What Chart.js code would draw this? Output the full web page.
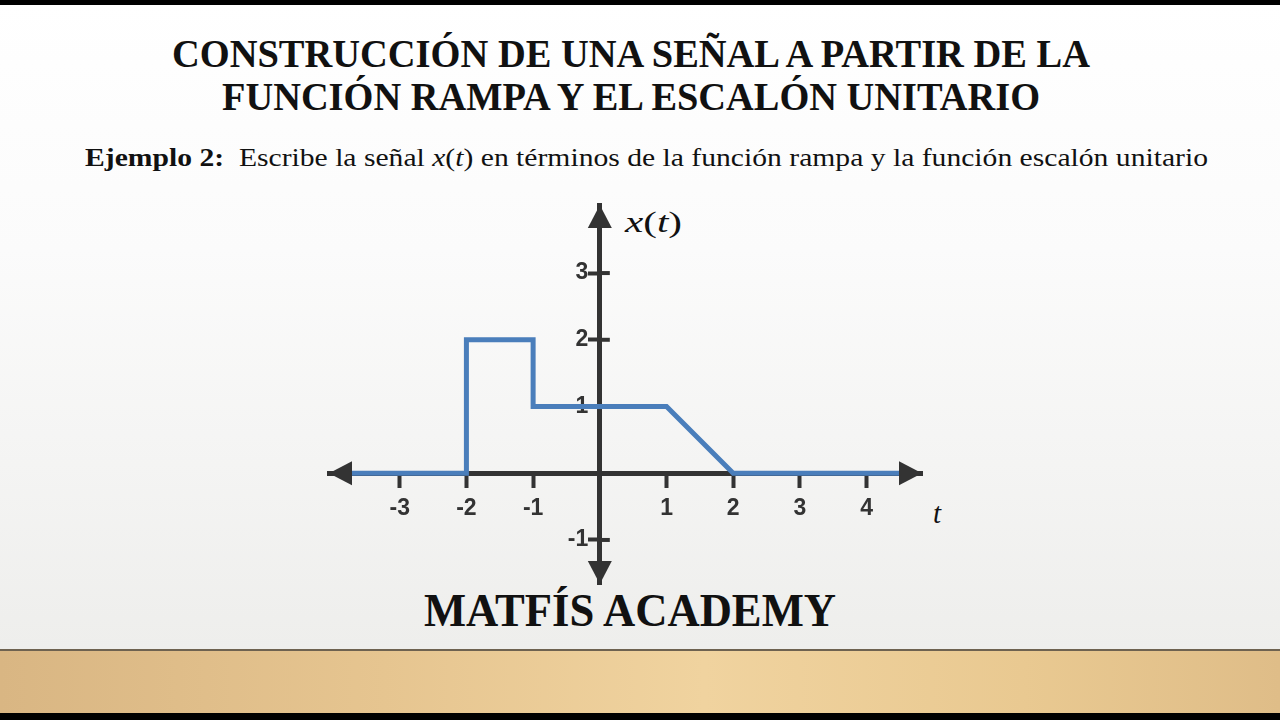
<!DOCTYPE html>
<html>
<head>
<meta charset="utf-8">
<script src="https://cdn.jsdelivr.net/npm/chart.js@4.4.1/dist/chart.umd.min.js"></script>
<style>
  html, body { margin: 0; padding: 0; }
  body {
    width: 1280px; height: 720px; overflow: hidden; position: relative;
    background: linear-gradient(to bottom, #ffffff 0px, #fbfbfb 250px, #eeeeec 648px);
  }
  .bar { position: absolute; left: 0; width: 1280px; background: #000; }
  .floor {
    position: absolute; left: 0; top: 649px; width: 1280px; height: 64px;
    background: linear-gradient(to right, #d9b683 0%, #e6c590 30%, #f0d39f 55%, #e9c991 80%, #dfbd88 100%);
    border-top: 2px solid #6e6250;
    box-sizing: border-box;
  }
  .txt {
    position: absolute; white-space: nowrap; line-height: 1;
    font-family: "Liberation Serif", serif; color: #111;
    transform-origin: left top;
  }
  .title { font-weight: bold; font-size: 39px; }
  .sub { font-size: 25px; }
  .sub b { font-weight: bold; }
  .math { font-style: italic; }
  .brand { font-weight: bold; font-size: 46px; }
  #chart { position: absolute; left: 0; top: 0; }
</style>
</head>
<body>
<div class="bar" style="top:0;height:5px"></div>
<div class="floor"></div>
<div class="bar" style="top:713px;height:7px"></div>

<div class="txt title" data-base="67" data-left="172" data-w="918">CONSTRUCCIÓN DE UNA SEÑAL A PARTIR DE LA</div>
<div class="txt title" data-base="110" data-left="222" data-w="818">FUNCIÓN RAMPA Y EL ESCALÓN UNITARIO</div>
<div class="txt sub" data-base="166" data-left="85" data-w="1123"><b>Ejemplo 2:</b>&nbsp; Escribe la señal <span class="math">x</span>(<span class="math">t</span>) en términos de la función rampa y la función escalón unitario</div>
<div class="txt brand" data-base="627" data-left="424" data-w="412">MATFÍS ACADEMY</div>
<div class="txt sub math" style="font-size:29px" data-base="232" data-left="625" data-w="57"><span>x</span><span style="font-style:normal">(</span>t<span style="font-style:normal">)</span></div>
<div class="txt sub math" style="font-size:29px" data-base="523" data-left="933">t</div>

<canvas id="chart" width="1280" height="720"></canvas>

<script>
// signal x(t): breakpoints
const tValues = [-3.73, -2, -2, -1, -1, 1, 2, 4.5];
const xValues = [0, 0, 2, 2, 1, 1, 0, 0];
const tTicks = [-3, -2, -1, 0, 1, 2, 3, 4];
const xTicks = [-1, 0, 1, 2, 3];

const axisColor = '#333333';
const lineColor = '#4a7ebb';

// place text lines by baseline and stretch to the measured widths
document.querySelectorAll('.txt').forEach(function (el) {
    const size = parseFloat(getComputedStyle(el).fontSize);
    el.style.top = (parseFloat(el.dataset.base) - 0.838 * size) + 'px';
    el.style.left = el.dataset.left + 'px';
    if (el.dataset.w) {
        const w = el.getBoundingClientRect().width;
        el.style.transform = 'scaleX(' + (parseFloat(el.dataset.w) / w) + ')';
    }
});

const points = tValues.map(function (t, i) { return { x: t, y: xValues[i] }; });

const axisExtras = {
    id: 'axisExtras',
    beforeDatasetsDraw(chart) {
        // y ticks cross the axis, chart.js only draws the left half
        const ctx = chart.ctx;
        const xs = chart.scales.x, ys = chart.scales.y;
        const x0 = xs.getPixelForValue(0);
        ctx.save();
        ctx.strokeStyle = axisColor;
        ctx.lineWidth = 4;
        xTicks.forEach(function (v) {
            if (v === 0) return;
            const py = ys.getPixelForValue(v);
            ctx.beginPath();
            ctx.moveTo(x0, py);
            ctx.lineTo(x0 + 10, py);
            ctx.stroke();
        });
        ctx.restore();
    },
    afterDatasetsDraw(chart) {
        const ctx = chart.ctx;
        const xs = chart.scales.x, ys = chart.scales.y;
        const x0 = xs.getPixelForValue(0);
        const y0 = ys.getPixelForValue(0);
        const len = 23, half = 12;
        ctx.save();
        ctx.fillStyle = axisColor;
        function tri(a, b, c) {
            ctx.beginPath();
            ctx.moveTo(a[0], a[1]); ctx.lineTo(b[0], b[1]); ctx.lineTo(c[0], c[1]);
            ctx.closePath();
            ctx.fill();
        }
        tri([xs.left, y0], [xs.left + len, y0 - half], [xs.left + len, y0 + half]);
        tri([xs.right, y0], [xs.right - len, y0 - half], [xs.right - len, y0 + half]);
        tri([x0, ys.top], [x0 - half, ys.top + len], [x0 + half, ys.top + len]);
        tri([x0, ys.bottom], [x0 - half, ys.bottom - len], [x0 + half, ys.bottom - len]);
        ctx.restore();
    }
};

const tickFont = { family: 'Liberation Sans', weight: 'bold', size: 23 };

new Chart(document.getElementById('chart').getContext('2d'), {
    type: 'scatter',
    data: {
        datasets: [{
            data: points,
            showLine: true,
            borderColor: lineColor,
            borderWidth: 5,
            pointRadius: 0,
            tension: 0,
            borderJoinStyle: 'miter',
            clip: false
        }]
    },
    options: {
        responsive: false,
        animation: false,
        layout: { padding: { left: 329, right: 358, top: 205, bottom: 136 } },
        plugins: { legend: { display: false }, tooltip: { enabled: false } },
        scales: {
            x: {
                type: 'linear',
                min: -4.06,
                max: 4.83,
                position: { y: 0 },
                afterBuildTicks: function (scale) {
                    scale.ticks = tTicks.map(function (v) { return { value: v }; });
                },
                grid: { drawOnChartArea: false, drawTicks: true, tickLength: 12, tickWidth: 4, tickColor: axisColor },
                border: { color: axisColor, width: 5 },
                ticks: {
                    autoSkip: false, maxRotation: 0, padding: 10, color: axisColor, font: tickFont,
                    callback: function (v) { return v === 0 ? '' : v; }
                }
            },
            y: {
                type: 'linear',
                min: -1.66,
                max: 4.02,
                position: { x: 0 },
                afterBuildTicks: function (scale) {
                    scale.ticks = xTicks.map(function (v) { return { value: v }; });
                },
                grid: { drawOnChartArea: false, drawTicks: true, tickLength: 9, tickWidth: 4, tickColor: axisColor },
                border: { color: axisColor, width: 5 },
                ticks: {
                    autoSkip: false, color: axisColor, font: tickFont,
                    // centre-positioned y axis ignores padding, so pad the label text itself
                    callback: function (v) { return v === 0 ? '' : v + '\u2002'; }
                }
            }
        }
    },
    plugins: [axisExtras]
});
</script>
</body>
</html>
